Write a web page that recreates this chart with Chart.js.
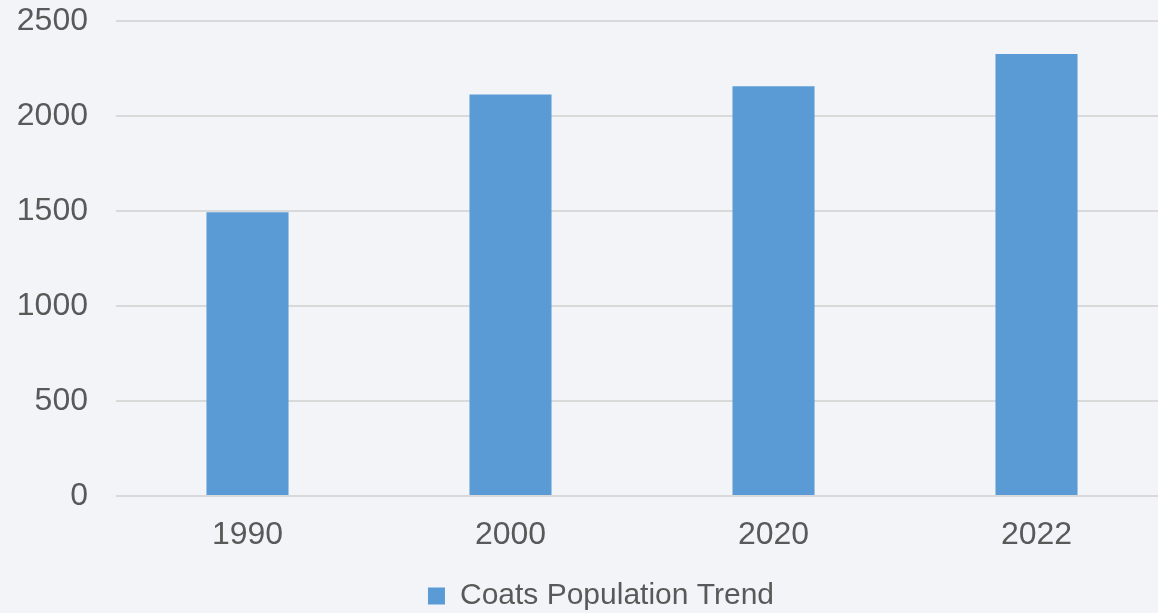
<!DOCTYPE html>
<html>
<head>
<meta charset="utf-8">
<script src="https://cdn.jsdelivr.net/npm/chart.js@4"></script>
<style>
  html, body { margin: 0; padding: 0; background: #f2f4f7; overflow: hidden; }
  #wrap { width: 1158px; height: 613px; overflow: hidden; }
</style>
</head>
<body>
<div id="wrap"><canvas id="chart" width="1170" height="621"></canvas></div>
<script>
const years = ["1990", "2000", "2020", "2022"];
const population = [1494, 2113, 2157, 2326];
const seriesName = "Coats Population Trend";

const textColor = "#595959";
const fontFamily = "'Liberation Sans', Arial, sans-serif";

// nudge the legend a little to the right of the canvas centre
const legendShift = {
  id: "legendShift",
  beforeDraw(chart) {
    const lg = chart.legend;
    if (lg && !lg._shifted) {
      lg.left += 17;
      lg.right += 17;
      lg._shifted = true;
    }
  }
};

new Chart(document.getElementById("chart"), {
  type: "bar",
  data: {
    labels: years,
    datasets: [{
      label: seriesName,
      data: population,
      backgroundColor: "#5b9bd5",
      borderWidth: 0,
      categoryPercentage: 1,
      barPercentage: 0.312
    }]
  },
  options: {
    responsive: false,
    animation: false,
    layout: { padding: { top: 21, right: 2, left: 0, bottom: 0 } },
    plugins: {
      tooltip: { enabled: false },
      legend: {
        position: "bottom",
        labels: {
          color: textColor,
          font: { family: fontFamily, size: 30 },
          boxWidth: 17,
          boxHeight: 17,
          padding: 4
        }
      }
    },
    scales: {
      x: {
        grid: { display: false, drawTicks: false },
        border: { display: false },
        ticks: { color: textColor, font: { family: fontFamily, size: 32 }, padding: 20 },
        afterFit: scale => { scale.height = 81; }
      },
      y: {
        min: 0,
        max: 2500,
        ticks: {
          stepSize: 500,
          color: textColor,
          font: { family: fontFamily, size: 32 },
          padding: 28,
          callback: value => String(value)
        },
        grid: { color: "#d9d9d9", lineWidth: 2, drawTicks: false },
        border: { display: false },
        afterFit: scale => {
          scale.width = 116;
          // keep the tick padding from pushing the plot area in
          scale.paddingTop = 0;
          scale.paddingBottom = 0;
        }
      }
    }
  },
  plugins: [legendShift]
});
</script>
</body>
</html>
